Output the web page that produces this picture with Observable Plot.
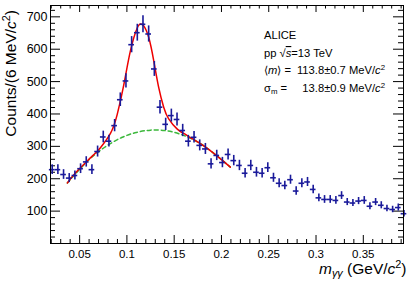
<!DOCTYPE html>
<html>
<head>
<meta charset="utf-8">
<script src="https://cdn.jsdelivr.net/npm/d3@7"></script>
<script src="https://cdn.jsdelivr.net/npm/@observablehq/plot@0.6"></script>
<style>
  html, body { margin: 0; padding: 0; background: #fff; }
  svg { display: block; }
</style>
</head>
<body>
<div id="chart"></div>
<script>
// ---- data ----
const binCenters = [0.021,0.027,0.033,0.039,0.045,0.051,0.057,0.063,0.069,0.075,0.081,0.087,0.093,0.099,0.105,0.111,0.117,0.123,0.129,0.135,0.141,0.147,0.153,0.159,0.165,0.171,0.177,0.183,0.189,0.195,0.201,0.207,0.213,0.219,0.225,0.231,0.237,0.243,0.249,0.255,0.261,0.267,0.273,0.279,0.285,0.291,0.297,0.303,0.309,0.315,0.321,0.327,0.333,0.339,0.345,0.351,0.357,0.363,0.369,0.375,0.381,0.387,0.393];
const counts = [228,228,213,202,210,231,252,228,284,329,316,364,444,502,614,651,677,647,539,421,368,395,383,349,316,328,303,292,246,272,250,275,256,241,217,241,220,217,234,203,186,179,197,162,186,190,167,141,136,136,133,148,128,125,131,133,115,128,118,108,105,111,92];
const errors = [15,15,15,14,14,15,16,15,17,18,18,19,21,22,25,26,26,25,23,21,19,20,20,19,18,18,17,17,16,16,16,17,16,16,15,16,15,15,15,14,14,13,14,13,14,14,13,12,12,12,12,12,11,11,11,12,11,11,11,10,10,11,10];
const binHalfWidth = 0.003;

// total fit (red) and background (green dashed)
const fitX = [0.037,0.046,0.058,0.066,0.072,0.0826,0.0897,0.0967,0.1037,0.1108,0.1145,0.1178,0.1231,0.1284,0.1336,0.1389,0.1442,0.153,0.160,0.170,0.185,0.200,0.2094];
const fitY = [187,219,255,277,296,340,398,490,595,665,678,672,636,564,482,421,385,354,340,322,294,259,236];
const bkgX = [0.037,0.05,0.065,0.08,0.095,0.11,0.125,0.14,0.155,0.17,0.185,0.2,0.2094];
const bkgY = [187,229,272,304,328,343,350,349,339,321,294,259,236];

const xMajor = [0.05,0.1,0.15,0.2,0.25,0.3,0.35];
const xMinor = [0.02,0.03,0.04,0.06,0.07,0.08,0.09,0.11,0.12,0.13,0.14,0.16,0.17,0.18,0.19,0.21,0.22,0.23,0.24,0.26,0.27,0.28,0.29,0.31,0.32,0.33,0.34,0.36,0.37,0.38,0.39];
const yMajor = [100,200,300,400,500,600,700];
const yMinor = [20,40,60,80,120,140,160,180,220,240,260,280,320,340,360,380,420,440,460,480,520,540,560,580,620,640,660,680,720];

// ---- layout ----
const W = 415, H = 283;
const mL = 50, mR = 12, mT = 5, mB = 40;
const innerW = W - mL - mR, innerH = H - mT - mB;
const blue = "#1a1a9a";

const pts = binCenters.map((x, i) => ({x, y: counts[i], lo: counts[i] - errors[i], hi: counts[i] + errors[i], xl: x - binHalfWidth, xr: x + binHalfWidth}));
const fit = fitX.map((x, i) => ({x, y: fitY[i]}));
const bkg = bkgX.map((x, i) => ({x, y: bkgY[i]}));

const plot = Plot.plot({
  width: W, height: H,
  marginLeft: mL, marginRight: mR, marginTop: mT, marginBottom: mB,
  style: {fontFamily: "'Liberation Sans', Arial, Helvetica, sans-serif", background: "#fff", color: "#000", overflow: "visible"},
  x: {domain: [0.0192, 0.3925]},
  y: {domain: [0, 735]},
  marks: [
    // inward ticks: bottom / top
    Plot.ruleX(xMajor, {x: d => d, insetTop: innerH - 8, stroke: "#000"}),
    Plot.ruleX(xMinor, {x: d => d, insetTop: innerH - 4, stroke: "#000"}),
    Plot.ruleX(xMajor, {x: d => d, insetBottom: innerH - 7, stroke: "#000"}),
    Plot.ruleX(xMinor, {x: d => d, insetBottom: innerH - 3.5, stroke: "#000"}),
    // inward ticks: left / right
    Plot.ruleY(yMajor, {y: d => d, insetRight: innerW - 10, stroke: "#000"}),
    Plot.ruleY(yMinor, {y: d => d, insetRight: innerW - 5, stroke: "#000"}),
    Plot.ruleY(yMajor, {y: d => d, insetLeft: innerW - 10, stroke: "#000"}),
    Plot.ruleY(yMinor, {y: d => d, insetLeft: innerW - 5, stroke: "#000"}),
    Plot.axisX({ticks: xMajor, tickSize: 0, tickPadding: 6, tickFormat: d => String(d), fontSize: 11.5, label: null}),
    Plot.axisY({ticks: yMajor, tickSize: 0, tickPadding: 3, tickFormat: d => String(d), fontSize: 12.5, label: null}),
    Plot.line(bkg, {x: "x", y: "y", curve: "natural", stroke: "#3cb83c", strokeWidth: 1.5, strokeDasharray: "4,3"}),
    Plot.line(fit, {x: "x", y: "y", curve: "natural", stroke: "#ee0000", strokeWidth: 1.5}),
    Plot.ruleX(pts, {x: "x", y1: "lo", y2: "hi", stroke: blue, strokeWidth: 1.6}),
    Plot.ruleY(pts, {y: "y", x1: "xl", x2: "xr", stroke: blue, strokeWidth: 1.6}),
    Plot.frame({stroke: "#000", strokeWidth: 1})
  ]
});

document.getElementById("chart").append(plot);

const svg = d3.select(plot);
const font = "'Liberation Sans', Arial, Helvetica, sans-serif";

// y-axis title
const yt = svg.append("text")
  .attr("transform", "translate(15.5,10) rotate(-90)")
  .attr("text-anchor", "end").attr("font-size", 15.5).attr("font-family", font).attr("fill", "#000");
yt.append("tspan").text("Counts/(6 MeV/");
yt.append("tspan").attr("font-style", "italic").text("c");
yt.append("tspan").attr("font-size", "70%").attr("dy", "-0.55em").text("2");
yt.append("tspan").attr("dy", "0.385em").text(")");

// x-axis title
const xt = svg.append("text")
  .attr("x", 406.5).attr("y", 274)
  .attr("text-anchor", "end").attr("font-size", 15.5).attr("font-family", font).attr("fill", "#000");
xt.append("tspan").attr("font-style", "italic").text("m");
xt.append("tspan").attr("font-style", "italic").attr("font-size", "70%").attr("dy", "0.3em").text("γγ");
xt.append("tspan").attr("dy", "-0.21em").text(" (GeV/");
xt.append("tspan").attr("font-style", "italic").text("c");
xt.append("tspan").attr("font-size", "70%").attr("dy", "-0.55em").text("2");
xt.append("tspan").attr("dy", "0.385em").text(")");

// annotations
const fs = 11.2;
function txt(x, y, anchor) {
  return svg.append("text").attr("x", x).attr("y", y).attr("text-anchor", anchor || "start")
    .attr("font-size", fs).attr("font-family", font).attr("fill", "#000");
}
txt(264, 39).text("ALICE");
const l2 = txt(264, 57);
l2.append("tspan").text("pp √");
l2.append("tspan").attr("font-style", "italic").attr("text-decoration", "overline").text("s");
l2.append("tspan").text("=13 TeV");
const l3a = txt(264, 74);
l3a.append("tspan").text("⟨");
l3a.append("tspan").attr("font-style", "italic").text("m");
l3a.append("tspan").text("⟩ =");
const l3b = txt(385, 74, "end");
l3b.append("tspan").text("113.8±0.7 MeV/");
l3b.append("tspan").attr("font-style", "italic").text("c");
l3b.append("tspan").attr("font-size", "70%").attr("dy", "-0.5em").text("2");
const l4a = txt(264, 92);
l4a.append("tspan").text("σ");
l4a.append("tspan").attr("font-size", "70%").attr("dy", "0.3em").text("m");
l4a.append("tspan").attr("dy", "-0.21em").text(" =");
const l4b = txt(385, 92, "end");
l4b.append("tspan").text("13.8±0.9 MeV/");
l4b.append("tspan").attr("font-style", "italic").text("c");
l4b.append("tspan").attr("font-size", "70%").attr("dy", "-0.5em").text("2");
</script>
</body>
</html>
